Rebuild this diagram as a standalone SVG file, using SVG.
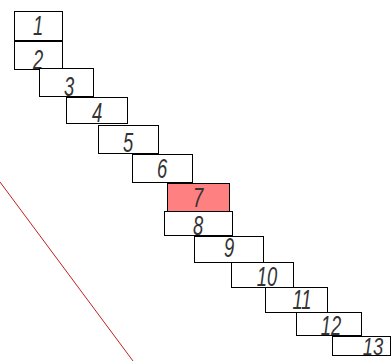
<svg xmlns="http://www.w3.org/2000/svg" width="392" height="361" viewBox="0 0 392 361">
<style>
.b{fill:#fff;stroke:#000;stroke-width:1}
.r{fill:#ff8080;stroke:#000;stroke-width:1}
.t{font-family:"Liberation Sans",Arial,sans-serif;font-style:italic;font-size:23px;fill:#333;text-anchor:middle}
</style>
<rect width="392" height="361" fill="#fff"/>
<g id="connectors">
<line x1="0" y1="182" x2="133" y2="361" stroke="#c02020" stroke-width="1"/>
</g>
<g id="n1"><rect class="b" x="14.5" y="11.5" width="48" height="29"/><text class="t" transform="translate(38,35) scale(0.8,1.2)">1</text></g>
<g id="n2"><rect class="b" x="14.5" y="41.5" width="48" height="28"/><text class="t" transform="translate(38,69) scale(0.8,1.2)">2</text></g>
<g id="n3"><rect class="b" x="39.5" y="68.5" width="54" height="28"/><text class="t" transform="translate(69,96) scale(0.8,1.2)">3</text></g>
<g id="n4"><rect class="b" x="66.5" y="97.5" width="61" height="26"/><text class="t" transform="translate(97,122) scale(0.8,1.2)">4</text></g>
<g id="n5"><rect class="b" x="98.5" y="125.5" width="60" height="28"/><text class="t" transform="translate(128,152) scale(0.8,1.2)">5</text></g>
<g id="n6"><rect class="b" x="132.5" y="154.5" width="60" height="28"/><text class="t" transform="translate(162,178) scale(0.8,1.2)">6</text></g>
<g id="n7"><rect class="r" x="167.5" y="183.5" width="62" height="28"/><text class="t" transform="translate(198,207) scale(0.8,1.2)">7</text></g>
<g id="n8"><rect class="b" x="164.5" y="211.5" width="68" height="24"/><text class="t" transform="translate(198,235) scale(0.8,1.2)">8</text></g>
<g id="n9"><rect class="b" x="194.5" y="236.5" width="69" height="26"/><text class="t" transform="translate(229,257) scale(0.8,1.2)">9</text></g>
<g id="n10"><rect class="b" x="231.5" y="262.5" width="62" height="25"/><text class="t" transform="translate(267,286) scale(0.8,1.2)">10</text></g>
<g id="n11"><rect class="b" x="265.5" y="287.5" width="62" height="25"/><text class="t" transform="translate(302,309) scale(0.8,1.2)">11</text></g>
<g id="n12"><rect class="b" x="296.5" y="312.5" width="65" height="23"/><text class="t" transform="translate(331,335) scale(0.8,1.2)">12</text></g>
<g id="n13"><rect class="b" x="332.5" y="336.5" width="58" height="19"/><text class="t" transform="translate(373,355) scale(0.8,1.0)">13</text></g>
</svg>
